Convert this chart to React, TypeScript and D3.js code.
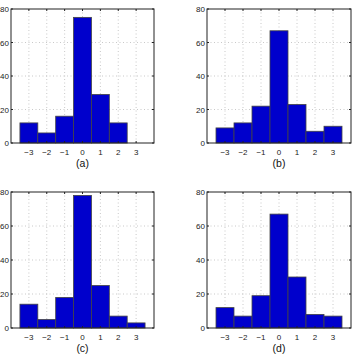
import React from 'react';
import * as d3 from 'd3';

const BINS = [-3, -2, -1, 0, 1, 2, 3];
const COUNTS_A = [12, 6, 16, 75, 29, 12, 0];
const COUNTS_B = [9, 12, 22, 67, 23, 7, 10];
const COUNTS_C = [14, 5, 18, 78, 25, 7, 3];
const COUNTS_D = [12, 7, 19, 67, 30, 8, 7];
const Y_TICKS = [0, 20, 40, 60, 80];
const LABELS = ['(a)', '(b)', '(c)', '(d)'];

const W = 354, H = 354;
const FONT = '"Liberation Sans", Arial, Helvetica, sans-serif';

// panel boxes
const PANELS = [
  { x: 11, y: 9, w: 143, h: 134, counts: COUNTS_A },
  { x: 207, y: 9, w: 144, h: 134, counts: COUNTS_B },
  { x: 11, y: 192, w: 143, h: 136, counts: COUNTS_C },
  { x: 207, y: 192, w: 144, h: 136, counts: COUNTS_D },
];

function fmt(v: number) {
  return v < 0 ? '\u2212' + Math.abs(v) : String(v);
}

function Panel({ p, label }: { p: typeof PANELS[0]; label: string }) {
  const x = d3.scaleLinear().domain([-4, 4]).range([0, p.w]);
  const y = d3.scaleLinear().domain([0, 80]).range([p.h, 0]);

  return (
    <g transform={`translate(${p.x},${p.y})`}>
      <rect x={0} y={0} width={p.w} height={p.h} fill="#fff" />
      {/* grid */}
      {BINS.map(b => (
        <line key={'gx' + b} x1={x(b)} x2={x(b)} y1={0} y2={p.h}
          stroke="#bbb" strokeWidth={0.8} strokeDasharray="1 2.5" />
      ))}
      {Y_TICKS.slice(1, -1).map(t => (
        <line key={'gy' + t} x1={0} x2={p.w} y1={y(t)} y2={y(t)}
          stroke="#bbb" strokeWidth={0.8} strokeDasharray="1 2.5" />
      ))}
      {/* bars */}
      {p.counts.map((c, i) => c > 0 && (
        <rect key={'b' + i}
          x={x(BINS[i] - 0.5)} y={y(c)}
          width={x(BINS[i] + 0.5) - x(BINS[i] - 0.5)}
          height={y(0) - y(c)}
          fill="#0000cc" stroke="#444" strokeWidth={0.8} />
      ))}
      {/* box */}
      <rect x={0} y={0} width={p.w} height={p.h} fill="none" stroke="#222" strokeWidth={1} />
      {/* ticks */}
      {BINS.map(b => (
        <g key={'tx' + b}>
          <line x1={x(b)} x2={x(b)} y1={p.h} y2={p.h - 2} stroke="#222" />
          <line x1={x(b)} x2={x(b)} y1={0} y2={2} stroke="#222" />
          <text x={x(b)} y={p.h + 12} textAnchor="middle" fontSize={8}
            fontFamily={FONT} fill="#222">{fmt(b)}</text>
        </g>
      ))}
      {Y_TICKS.map(t => (
        <g key={'ty' + t}>
          <line x1={0} x2={2} y1={y(t)} y2={y(t)} stroke="#222" />
          <line x1={p.w} x2={p.w - 2} y1={y(t)} y2={y(t)} stroke="#222" />
          <text x={-2} y={y(t) + 3} textAnchor="end" fontSize={8}
            fontFamily={FONT} fill="#222">{t}</text>
        </g>
      ))}
      <text x={p.w / 2} y={p.h + 24} textAnchor="middle" fontSize={10.5}
        fontFamily={FONT} fill="#111">{label}</text>
    </g>
  );
}

export default function App() {
  return (
    <svg width={W} height={H} style={{ position: 'absolute', left: 0, top: 0, background: '#fff' }}>
      <rect width={W} height={H} fill="#fff" />
      {PANELS.map((p, i) => <Panel key={i} p={p} label={LABELS[i]} />)}
    </svg>
  );
}
